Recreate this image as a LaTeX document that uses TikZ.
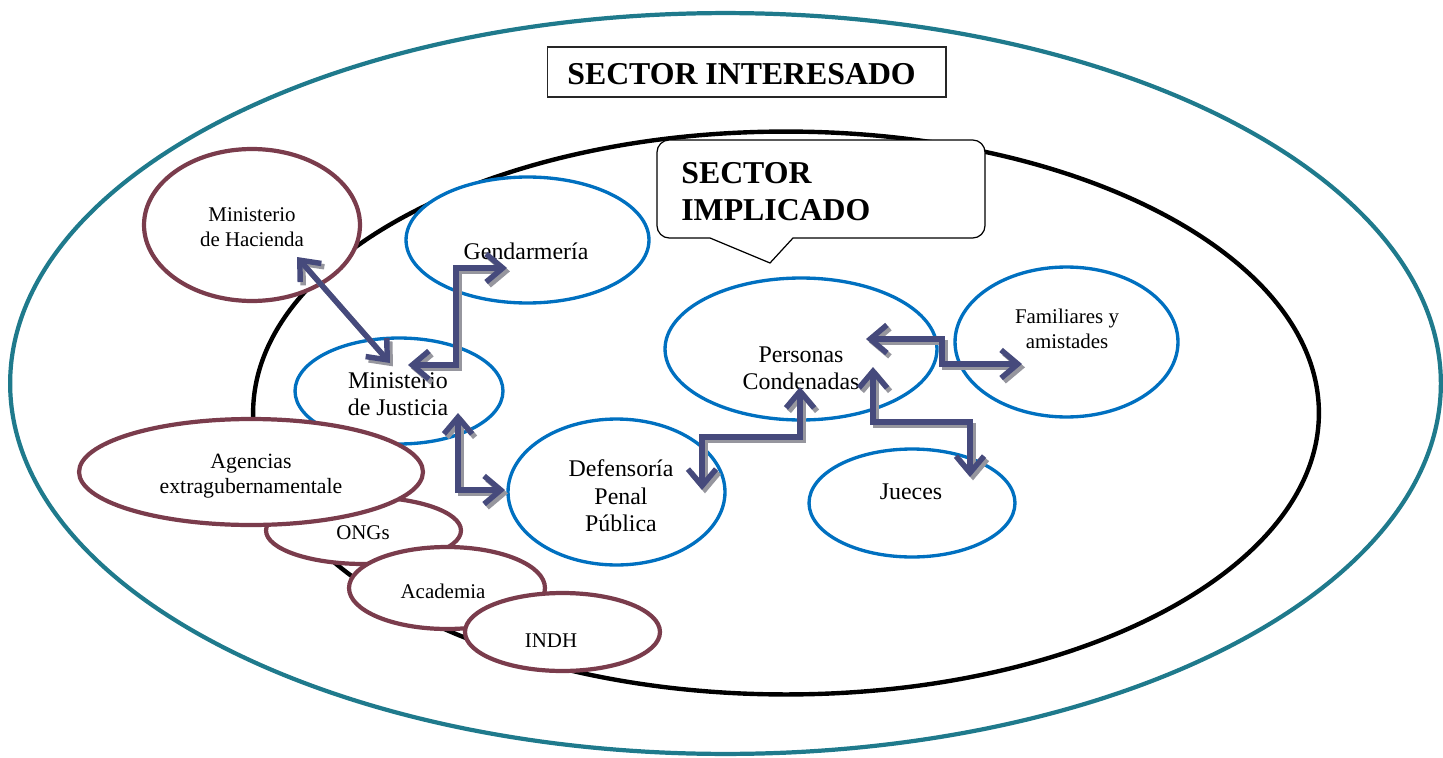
\documentclass[tikz,border=0pt]{standalone}
\usepackage{fontspec}
\setmainfont{Liberation Serif}
\usetikzlibrary{shapes.geometric,arrows.meta}
\definecolor{cteal}{RGB}{31,122,140}
\definecolor{cblue}{RGB}{0,112,192}
\definecolor{cmaroon}{RGB}{122,60,76}
\definecolor{carrow}{RGB}{70,74,124}
\definecolor{cshadow}{RGB}{150,150,158}
\newcommand\duoarrow[1]{\draw[arrshadow] #1; \draw[arrmain] #1;}
\begin{document}
\begin{tikzpicture}[x=0.02cm,y=-0.02cm,
  blueell/.style={ellipse, inner sep=0pt, draw=cblue, line width=1.9pt, fill=white},
  maroonell/.style={ellipse, inner sep=0pt, draw=cmaroon, line width=2.4pt, fill=white},
  bigtxt/.style={font=\fontsize{13.6pt}{15.6pt}\selectfont, align=center, inner sep=0pt},
  smalltxt/.style={font=\fontsize{11.9pt}{14.2pt}\selectfont, align=center, inner sep=0pt},
  titletxt/.style={font=\fontsize{18.1pt}{21pt}\selectfont\bfseries, inner sep=0pt},
  arrbase/.style={line width=3.1pt, line join=miter, arrows={Straight Barb[length=9.5pt,width=16pt]-Straight Barb[length=9.5pt,width=16pt]}},
  arrshadow/.style={arrbase, draw=cshadow, transform canvas={xshift=1.7pt,yshift=-1.9pt}},
  arrmain/.style={arrbase, draw=carrow}]
\useasboundingbox (0,0) rectangle (1443,757);

% outer and inner sectors
\node[ellipse, draw=cteal, line width=2.4pt, inner sep=0pt, minimum width=28.62cm, minimum height=14.82cm] (outer) at (725.5,383.5) {};
\node[draw=black!85, line width=0.6pt, minimum width=7.98cm, minimum height=1.0cm, inner sep=0pt] (intbox) at (746.5,72) {};
\node[titletxt, anchor=west] (inttxt) at (567,74) {SECTOR INTERESADO};
\node[ellipse, draw=black, line width=2.5pt, inner sep=0pt, minimum width=21.32cm, minimum height=11.26cm] (inner) at (786,413) {};

% callout
\draw[fill=white, line width=0.7pt] (710,238) [rounded corners=7pt] -- (657,238) -- (657,140) -- (985,140) -- (985,238) [sharp corners] -- (793,238) -- (770,263) -- cycle;
\node[titletxt, align=left, anchor=west] (impl) at (681,192) {SECTOR\\IMPLICADO};

% actor ellipses
\node[maroonell, minimum width=4.32cm, minimum height=3.04cm] (hac) at (252,225) {};
\node[blueell, minimum width=4.86cm, minimum height=2.52cm] (gen) at (527.5,240) {};
\node[blueell, minimum width=5.44cm, minimum height=2.84cm] (per) at (801,349) {};
\node[blueell, minimum width=4.46cm, minimum height=3.0cm] (fam) at (1066.5,342) {};
\node[blueell, minimum width=4.12cm, minimum height=2.16cm] (jue) at (912,503) {};
\node[blueell, minimum width=4.34cm, minimum height=2.92cm] (def) at (616.5,492) {};
\node[blueell, minimum width=4.16cm, minimum height=2.12cm] (mdj) at (399,391) {};
\node[maroonell, minimum width=3.9cm, minimum height=1.34cm] (ong) at (363.5,530.5) {};
\node[maroonell, minimum width=6.88cm, minimum height=2.12cm] (age) at (251,472) {};
\node[maroonell, minimum width=3.92cm, minimum height=1.64cm] (aca) at (447,588) {};
\node[maroonell, minimum width=3.9cm, minimum height=1.56cm] (indh) at (562.5,632) {};

% labels
\node[smalltxt] (hact) at (252,227) {Ministerio\\de Hacienda};
\node[bigtxt] (gent) at (526,251) {Gendarmería};
\node[bigtxt] (mdjt) at (398,394) {Ministerio\\de Justicia};
\node[bigtxt] (pert) at (801,368) {Personas\\Condenadas};
\node[smalltxt] (famt) at (1067,329) {Familiares y\\amistades};
\node[bigtxt] (deft) at (621,496) {Defensoría\\Penal\\Pública};
\node[bigtxt] (juet) at (911,492) {Jueces};
\node[smalltxt, font=\fontsize{12.4pt}{14.6pt}\selectfont] (aget) at (251,476) {Agencias\\extragubernamentale};
\node[smalltxt] (ongt) at (363,533) {ONGs};
\node[smalltxt] (acat) at (443,591) {Academia};
\node[smalltxt] (indht) at (551,641) {INDH};

% connector end points
\coordinate (hacA) at (297,257);
\coordinate (mdjA) at (390,363);
\coordinate (mdjB) at (408,365);
\coordinate (genB) at (507,268);
\coordinate (mdjC) at (458,413);
\coordinate (defC) at (505,490);
\coordinate (defD) at (702,490);
\coordinate (perD) at (800,387);
\coordinate (perE) at (866,339);
\coordinate (famE) at (1022,364);
\coordinate (perF) at (873,367);
\coordinate (jueF) at (970,477);

% connectors
\duoarrow{(hacA) -- (mdjA)}
\duoarrow{(mdjB) -- (456,365) -- (456,268) -- (genB)}
\duoarrow{(mdjC) -- (458,490) -- (defC)}
\duoarrow{(defD) -- (702,437) -- (800,437) -- (perD)}
\duoarrow{(perE) -- (942,339) -- (942,364) -- (famE)}
\duoarrow{(perF) -- (873,422) -- (970,422) -- (jueF)}
\end{tikzpicture}
\end{document}
